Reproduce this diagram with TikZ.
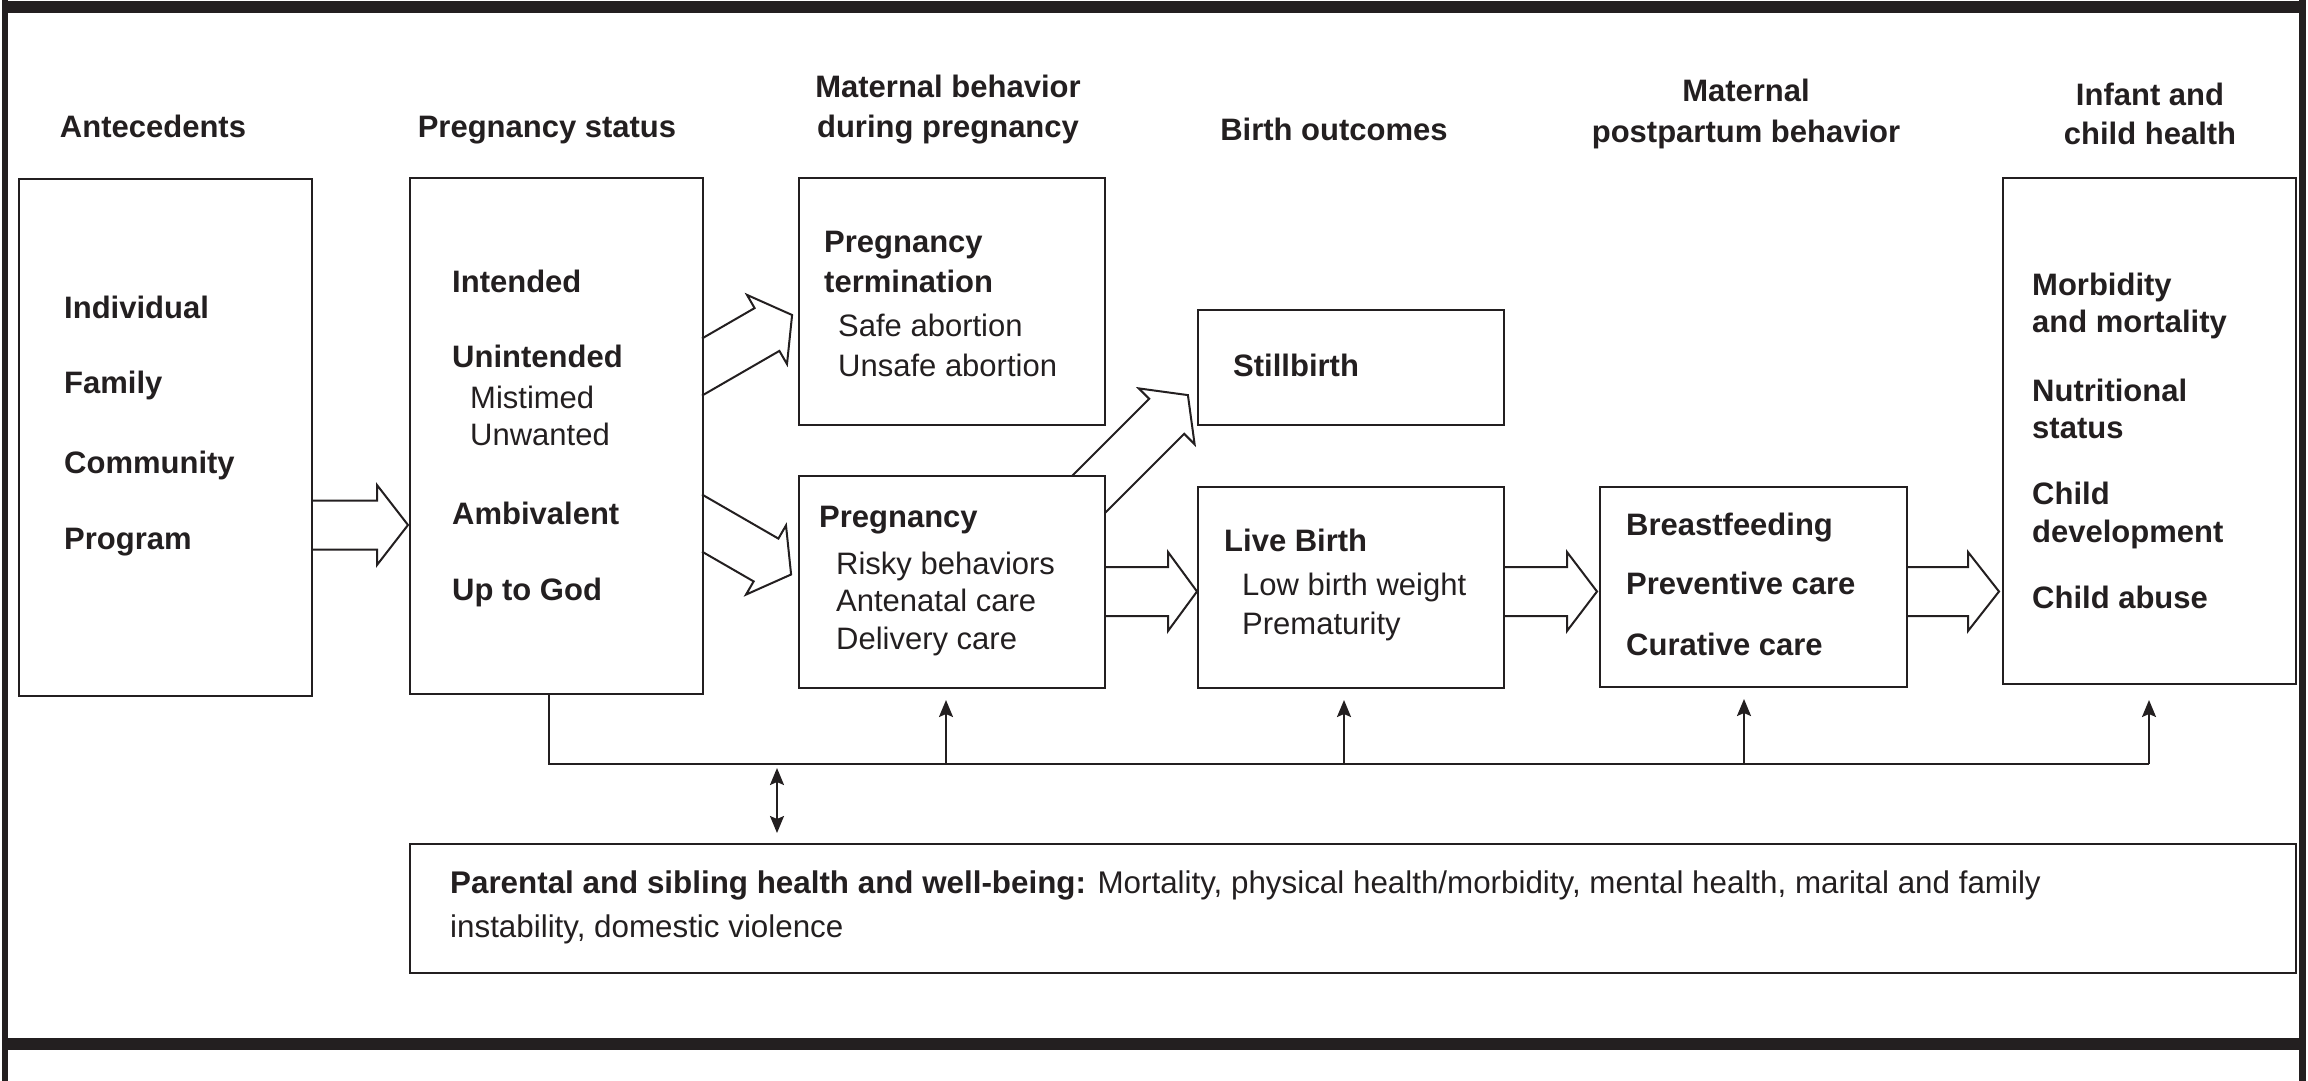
\documentclass[tikz,border=0pt]{standalone}
\usepackage{fontspec}
\setmainfont{Liberation Sans}
\usetikzlibrary{arrows.meta,calc}
\definecolor{ink}{RGB}{35,31,32}
\begin{document}
\begin{tikzpicture}[x=1pt,y=-1pt,
  box/.style={draw=ink,line width=2pt,anchor=north west,inner sep=0pt,outer sep=0pt},
  blk/.style={draw=ink,line width=2pt,line join=miter},
  conn/.style={draw=ink,line width=2pt},
  tipa/.style={-{Stealth[length=17pt,width=14pt,inset=3pt]}},
  tipb/.style={{Stealth[length=17pt,width=14pt,inset=3pt]}-{Stealth[length=17pt,width=14pt,inset=3pt]}},
  txt/.style={font=\fontsize{31}{37}\selectfont,text=ink,inner sep=0pt,anchor=base west},
  txtb/.style={font=\fontsize{31}{37}\selectfont\bfseries,text=ink,inner sep=0pt,anchor=base west},
  txtp/.style={font=\fontsize{31.35}{37}\selectfont,text=ink,inner sep=0pt,anchor=base west},
  ttl/.style={txtb,anchor=base}]
\useasboundingbox (0,0) rectangle (2308,1081);
% frame
\draw[ink,line width=6pt] (4.5,0) -- (4.5,1081);
\draw[ink,line width=7pt] (2302,0) -- (2302,1081);
\draw[ink,line width=12pt] (8,7) -- (2299,7);
\draw[ink,line width=12pt] (8,1044) -- (2299,1044);
% boxes
\node[box,minimum width=293pt,minimum height=517pt] (ant) at (19,179) {};
\node[box,minimum width=293pt,minimum height=516pt] (ps) at (410,178) {};
\node[box,minimum width=306pt,minimum height=247pt] (term) at (799,178) {};
\node[box,minimum width=306pt,minimum height=212pt] (preg) at (799,476) {};
\node[box,minimum width=306pt,minimum height=115pt] (still) at (1198,310) {};
\node[box,minimum width=306pt,minimum height=201pt] (live) at (1198,487) {};
\node[box,minimum width=307pt,minimum height=200pt] (post) at (1600,487) {};
\node[box,minimum width=293pt,minimum height=506pt] (inf) at (2003,178) {};
\node[box,minimum width=1886pt,minimum height=129pt] (par) at (410,844) {};
% titles
\node[ttl] (h1) at (153,137) {Antecedents};
\node[ttl] (h2) at (547,137) {Pregnancy status};
\node[ttl] (h3a) at (948,97) {Maternal behavior};
\node[ttl] (h3b) at (948,137) {during pregnancy};
\node[ttl] (h4) at (1334,140) {Birth outcomes};
\node[ttl] (h5a) at (1746,102) {Maternal};
\node[ttl] (h5b) at (1746,142) {postpartum behavior};
\node[ttl] (h6a) at (2150,106) {Infant and};
\node[ttl] (h6b) at (2150,144) {child health};
% antecedents
\node[txtb] (a1) at (64,318) {Individual};
\node[txtb] (a2) at (64,393) {Family};
\node[txtb] (a3) at (64,473) {Community};
\node[txtb] (a4) at (64,549) {Program};
% pregnancy status
\node[txtb] (p1) at (452,292) {Intended};
\node[txtb] (p2) at (452,367) {Unintended};
\node[txt] (p3) at (470,408) {Mistimed};
\node[txt] (p4) at (470,445.5) {Unwanted};
\node[txtb] (p5) at (452,524) {Ambivalent};
\node[txtb] (p6) at (452,600) {Up to God};
% termination
\node[txtb] (t1) at (824,252) {Pregnancy};
\node[txtb] (t2) at (824,292) {termination};
\node[txt] (t3) at (838,336.5) {Safe abortion};
\node[txt] (t4) at (838,376) {Unsafe abortion};
% pregnancy
\node[txtb] (g1) at (819,527) {Pregnancy};
\node[txt] (g2) at (836,574.5) {Risky behaviors};
\node[txt] (g3) at (836,611) {Antenatal care};
\node[txt] (g4) at (836,649) {Delivery care};
% stillbirth
\node[txtb] (s1) at (1233,376) {Stillbirth};
% live birth
\node[txtb] (l1) at (1224,551) {Live Birth};
\node[txt] (l2) at (1242,595.5) {Low birth weight};
\node[txt] (l3) at (1242,634) {Prematurity};
% postpartum
\node[txtb] (m1) at (1626,535.5) {Breastfeeding};
\node[txtb] (m2) at (1626,594) {Preventive care};
\node[txtb] (m3) at (1626,655) {Curative care};
% infant
\node[txtb] (i1) at (2032,295.5) {Morbidity};
\node[txtb] (i2) at (2032,332.5) {and mortality};
\node[txtb] (i3) at (2032,401) {Nutritional};
\node[txtb] (i4) at (2032,438) {status};
\node[txtb] (i5) at (2032,504.5) {Child};
\node[txtb] (i6) at (2032,542) {development};
\node[txtb] (i7) at (2032,608) {Child abuse};
% parental
\node[txtp] (r1) at (450,893) {\textbf{Parental and sibling health and well-being:} Mortality, physical health/morbidity, mental health, marital and family};
\node[txtp] (r2) at (450,937) {instability, domestic violence};
% block arrows
\draw[blk] (312,500.5) -- (377,500.5) -- (377,485) -- (408,525) -- (377,565) -- (377,549.5) -- (312,549.5);
\draw[blk] (702,338.5) -- (754.6,308.1) -- (747,294.9) -- (792.1,315) -- (787,364.1) -- (779.4,350.9) -- (702,395.6);
\draw[blk] (702,494.5) -- (778.4,538.6) -- (786,525.4) -- (791.1,574.5) -- (746,594.6) -- (753.65,581.4) -- (702,551.6);
\draw[blk] (1072,476) -- (1149.2,398.8) -- (1138.8,388.4) -- (1187.9,395.1) -- (1194.6,444.2) -- (1184.2,433.8) -- (1105,513);
\draw[blk] (1105,567) -- (1168,567) -- (1168,552) -- (1197,591.5) -- (1168,631) -- (1168,616) -- (1105,616);
\draw[blk] (1504,567) -- (1567,567) -- (1567,552) -- (1597,591.5) -- (1567,631) -- (1567,616) -- (1504,616);
\draw[blk] (1907,567) -- (1968,567) -- (1968,552) -- (1999,591.5) -- (1968,631) -- (1968,616) -- (1907,616);
% feedback connectors
\coordinate (busL) at (549,764);
\coordinate (busR) at (2149,764);
\draw[conn] (busL |- ps.south) -- (busL) -- (busR);
\coordinate (u1) at (946,764);
\coordinate (u2) at (1344,764);
\coordinate (u3) at (1744,764);
\coordinate (u4) at (2149,764);
\draw[conn,tipa,shorten >=12pt] (u1) -- (u1 |- preg.south);
\draw[conn,tipa,shorten >=12pt] (u2) -- (u2 |- live.south);
\draw[conn,tipa,shorten >=12pt] (u3) -- (u3 |- post.south);
\draw[conn,tipa,shorten >=16pt] (u4) -- (u4 |- inf.south);
\coordinate (d1) at (777,768);
\draw[conn,tipb,shorten >=11pt] (d1) -- (d1 |- par.north);
\end{tikzpicture}
\end{document}
